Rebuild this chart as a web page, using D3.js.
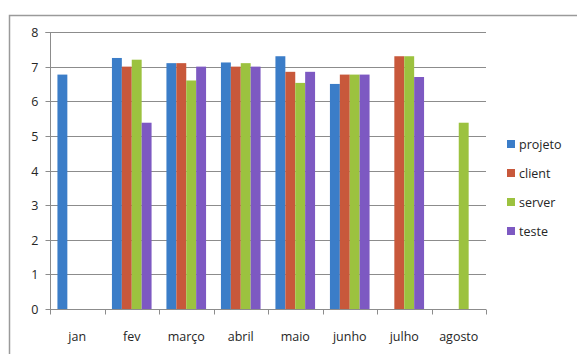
<!DOCTYPE html>
<html>
<head>
<meta charset="utf-8">
<script src="https://cdn.jsdelivr.net/npm/d3@7"></script>
<style>
  html, body { margin: 0; padding: 0; background: #fff; }
  svg { display: block; }
  text { font-family: "Open Sans", "DejaVu Sans", sans-serif; fill: #262626; }
</style>
</head>
<body>
<svg id="chart" width="577" height="354"></svg>
<script>
// Monthly scores per component
const months = ["jan", "fev", "março", "abril", "maio", "junho", "julho", "agosto"];
const seriesNames = ["projeto", "client", "server", "teste"];
const seriesColors = ["#3b7dc8", "#c8583b", "#9cc23f", "#7d59c2"];
const projeto = [6.77, 7.25, 7.1, 7.12, 7.3, 6.5, null, null];
const client  = [null, 7.0, 7.1, 7.0, 6.85, 6.77, 7.3, null];
const server  = [null, 7.2, 6.6, 7.1, 6.53, 6.77, 7.3, 5.38];
const teste   = [null, 5.38, 7.0, 7.0, 6.85, 6.77, 6.7, null];
const yTicks = [0, 1, 2, 3, 4, 5, 6, 7, 8];

const seriesValues = [projeto, client, server, teste];

const svg = d3.select("#chart");

// Outer chart frame (top and left edges)
svg.append("path")
  .attr("d", "M9.5,354 V15.5 H577")
  .attr("fill", "none")
  .attr("stroke", "#9a9a9a")
  .attr("stroke-width", 1.5);

const plot = { left: 50, right: 486, top: 32, bottom: 309 };

const x0 = d3.scaleBand()
  .domain(months)
  .range([plot.left, plot.right])
  .paddingInner(0)
  .paddingOuter(0);

// Gap between groups equals 1.5 bar widths
const x1 = d3.scaleBand()
  .domain(seriesNames)
  .range([0, x0.bandwidth()])
  .paddingInner(0)
  .paddingOuter(0.75);

const y = d3.scaleLinear().domain([0, 8]).range([plot.bottom, plot.top]);

// Horizontal gridlines
svg.append("g")
  .selectAll("line")
  .data(yTicks.filter(d => d > 0))
  .join("line")
  .attr("x1", plot.left)
  .attr("x2", plot.right)
  .attr("y1", d => Math.round(y(d)) + 0.5)
  .attr("y2", d => Math.round(y(d)) + 0.5)
  .attr("stroke", "#8c8c8c")
  .attr("stroke-width", 1);

// Bars
const groups = svg.append("g")
  .selectAll("g")
  .data(months)
  .join("g")
  .attr("transform", d => `translate(${x0(d)},0)`);

groups.selectAll("rect")
  .data((m, i) => seriesNames.map((s, k) => ({ s, k, v: seriesValues[k][i] })).filter(d => d.v != null))
  .join("rect")
  .attr("x", d => x1(d.s))
  .attr("width", x1.bandwidth())
  .attr("y", d => y(d.v))
  .attr("height", d => y(0) - y(d.v))
  .attr("fill", d => seriesColors[d.k]);

// Y axis
const yAxis = d3.axisLeft(y)
  .tickValues(yTicks)
  .tickSize(5)
  .tickPadding(7)
  .tickFormat(d3.format("d"));

const gy = svg.append("g")
  .attr("transform", `translate(${plot.left + 0.5},0)`)
  .call(yAxis);
gy.select(".domain").attr("stroke", "#8c8c8c").attr("d", `M-5,${plot.top + 0.5}H0V${plot.bottom + 0.5}`);
gy.selectAll(".tick line").attr("stroke", "#8c8c8c");
gy.selectAll(".tick").attr("transform", d => `translate(0,${Math.round(y(d)) + 0.5})`);
gy.selectAll("text").style("font-size", "12.5px").style("fill", "#262626");

// X axis with ticks at category boundaries
const gx = svg.append("g")
  .attr("transform", `translate(0,${plot.bottom + 0.5})`);
gx.append("line")
  .attr("x1", plot.left).attr("x2", plot.right)
  .attr("stroke", "#8c8c8c");
gx.selectAll("line.tk")
  .data(months.map(m => x0(m)).concat([plot.right]))
  .join("line")
  .attr("class", "tk")
  .attr("x1", d => Math.round(d) + 0.5)
  .attr("x2", d => Math.round(d) + 0.5)
  .attr("y1", 0).attr("y2", 5)
  .attr("stroke", "#8c8c8c");
gx.selectAll("text")
  .data(months)
  .join("text")
  .attr("x", d => x0(d) + x0.bandwidth() / 2)
  .attr("y", 31)
  .attr("text-anchor", "middle")
  .style("font-size", "12.5px")
  .text(d => d);

// Legend
const legend = svg.append("g").attr("transform", "translate(507,144)");
const li = legend.selectAll("g")
  .data(seriesNames)
  .join("g")
  .attr("transform", (d, i) => `translate(0,${i * 29})`);
li.append("rect")
  .attr("x", 0).attr("y", -4)
  .attr("width", 8).attr("height", 8)
  .attr("fill", (d, i) => seriesColors[i]);
li.append("text")
  .attr("x", 12)
  .attr("y", 4.5)
  .style("font-size", "12.5px")
  .text(d => d);
</script>
</body>
</html>
